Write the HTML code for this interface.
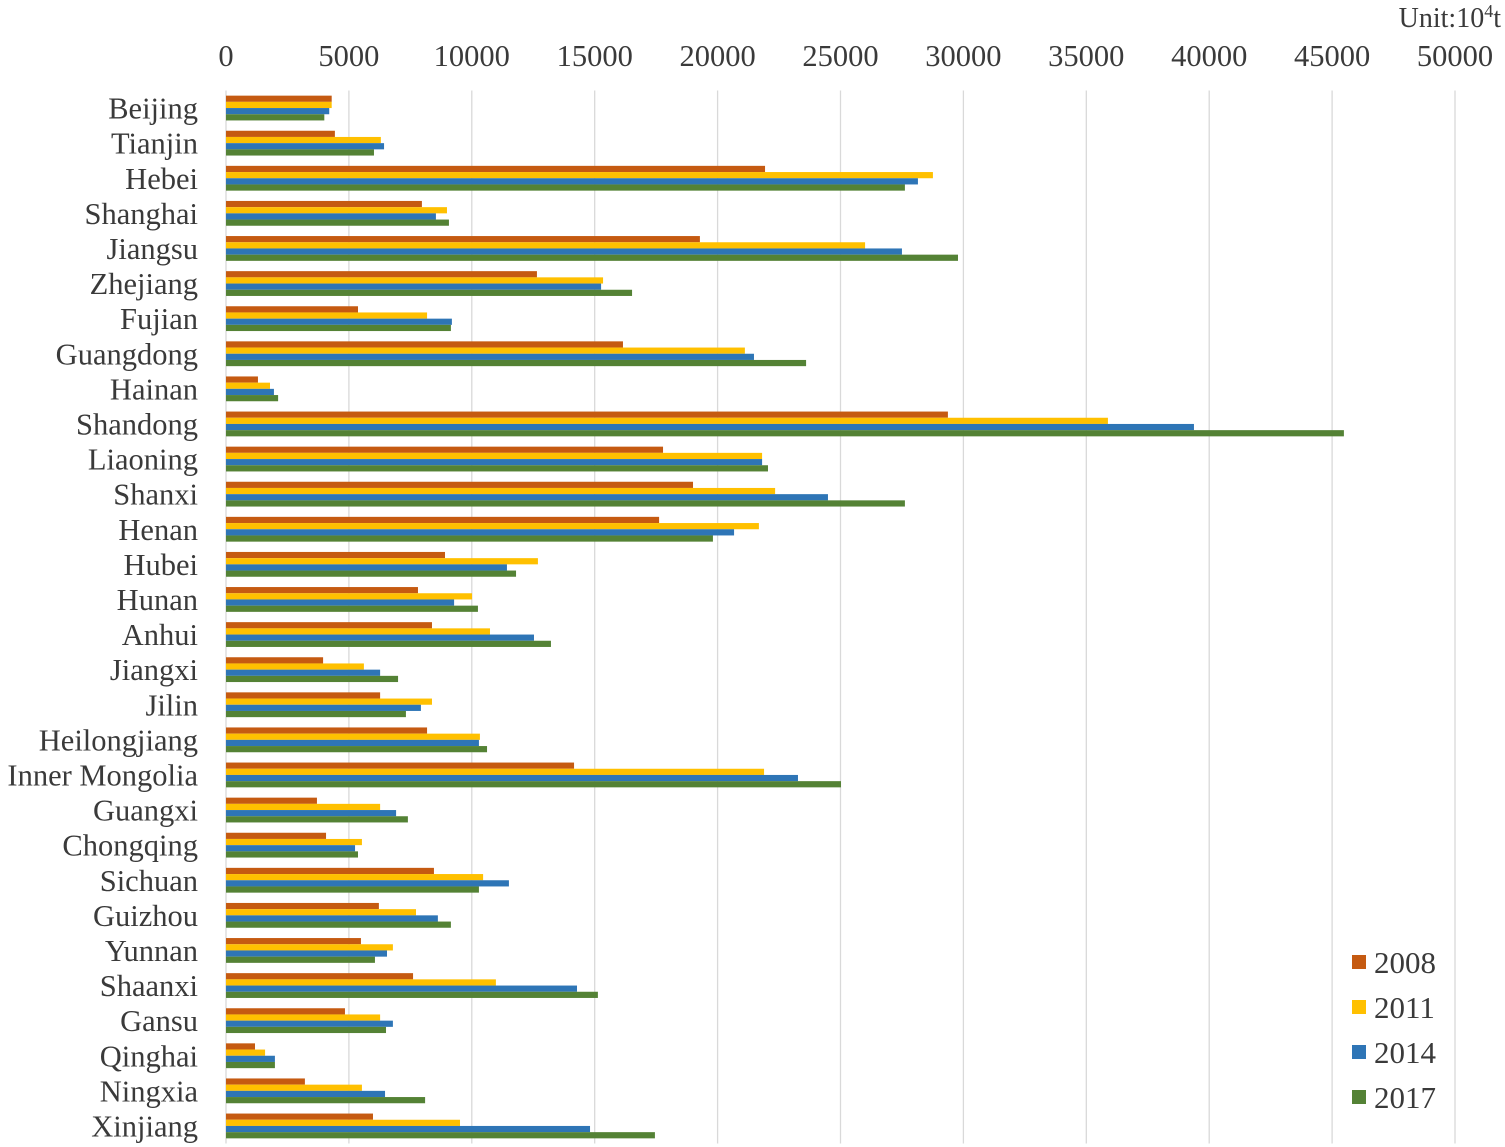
<!DOCTYPE html>
<html><head><meta charset="utf-8">
<style>
html,body{margin:0;padding:0;background:#fff;}
svg{display:block;font-family:"Liberation Serif",serif;}
</style></head>
<body>
<svg id="chart" width="1505" height="1147" viewBox="0 0 1505 1147" xmlns="http://www.w3.org/2000/svg">
<text x="1501" y="27" text-anchor="end" font-size="28" fill="#3a3a3a">Unit:10<tspan dy="-10" font-size="18">4</tspan><tspan dy="10">t</tspan></text>
<g id="grid"></g>
<g id="xticks"></g>
<g id="bars"></g>
<g id="cats"></g>
<g id="legend"></g>
</svg>
<script>
const categories=["Beijing","Tianjin","Hebei","Shanghai","Jiangsu","Zhejiang","Fujian","Guangdong","Hainan","Shandong","Liaoning","Shanxi","Henan","Hubei","Hunan","Anhui","Jiangxi","Jilin","Heilongjiang","Inner Mongolia","Guangxi","Chongqing","Sichuan","Guizhou","Yunnan","Shaanxi","Gansu","Qinghai","Ningxia","Xinjiang"];
const seriesNames=["2008","2011","2014","2017"];
const v2008=[4300,4430,21930,7970,19280,12650,5370,16150,1300,29370,17780,19000,17620,8910,7810,8380,3950,6270,8180,14160,3700,4070,8460,6220,5490,7610,4840,1180,3210,5980];
const v2011=[4300,6300,28760,8990,26000,15340,8180,21110,1790,35880,21810,22340,21680,12690,10010,10740,5610,8380,10330,21890,6270,5530,10460,7730,6790,10980,6270,1590,5530,9520];
const v2014=[4200,6430,28150,8540,27500,15260,9190,21480,1950,39380,21810,24490,20670,11430,9280,12530,6270,7930,10290,23270,6920,5250,11510,8620,6550,14280,6790,1990,6470,14810];
const v2017=[4000,6020,27620,9070,29780,16520,9150,23600,2120,45480,22050,27620,19810,11800,10250,13220,7000,7320,10620,25020,7400,5370,10290,9150,6060,15130,6510,1990,8100,17450];
const xTicks=[0,5000,10000,15000,20000,25000,30000,35000,40000,45000,50000];
const colors=["#C55A11","#FFC000","#2E75B6","#548235"];
const series=[v2008,v2011,v2014,v2017];
const NS="http://www.w3.org/2000/svg";
const x0=226,x1=1455,xMax=50000,yTop=90.5,band=35.1,barH=6.2;
const xs=v=>x0+(v/xMax)*(x1-x0);
function mk(tag,attrs,parent){const e=document.createElementNS(NS,tag);for(const k in attrs)e.setAttribute(k,attrs[k]);parent.appendChild(e);return e;}
const grid=document.getElementById('grid'),xt=document.getElementById('xticks'),bars=document.getElementById('bars'),cats=document.getElementById('cats'),leg=document.getElementById('legend');
xTicks.forEach(t=>{
  const l=mk('line',{x1:xs(t),x2:xs(t),y1:yTop,y2:yTop+band*categories.length,stroke:'#d9d9d9','stroke-width':1.3},grid);
  
  
  const tx=mk('text',{x:xs(t),y:66,'text-anchor':'middle','font-size':30.5,fill:'#3a3a3a'},xt);
  tx.textContent=t;
  
  
});
categories.forEach((c,i)=>{
  const cy=yTop+band*i+band/2;
  const t=mk('text',{x:198,y:cy+10.5,'text-anchor':'end','font-size':30.5,fill:'#3a3a3a'},cats);
  t.textContent=c;
  
  
  series.forEach((s,j)=>{
    const y=cy-2*barH+j*barH;
    const r=mk('rect',{x:x0,y:y,width:xs(s[i])-x0,height:barH,fill:colors[j]},bars);
    
    
  });
});
seriesNames.forEach((n,j)=>{
  const y=963+45*j;
  const r=mk('rect',{x:1352,y:y-8,width:14,height:14,fill:colors[j]},leg);
  
  
  const t=mk('text',{x:1374,y:y+10,'font-size':31,fill:'#3a3a3a'},leg);
  t.textContent=n;
  
  
});
</script>
</body></html>
